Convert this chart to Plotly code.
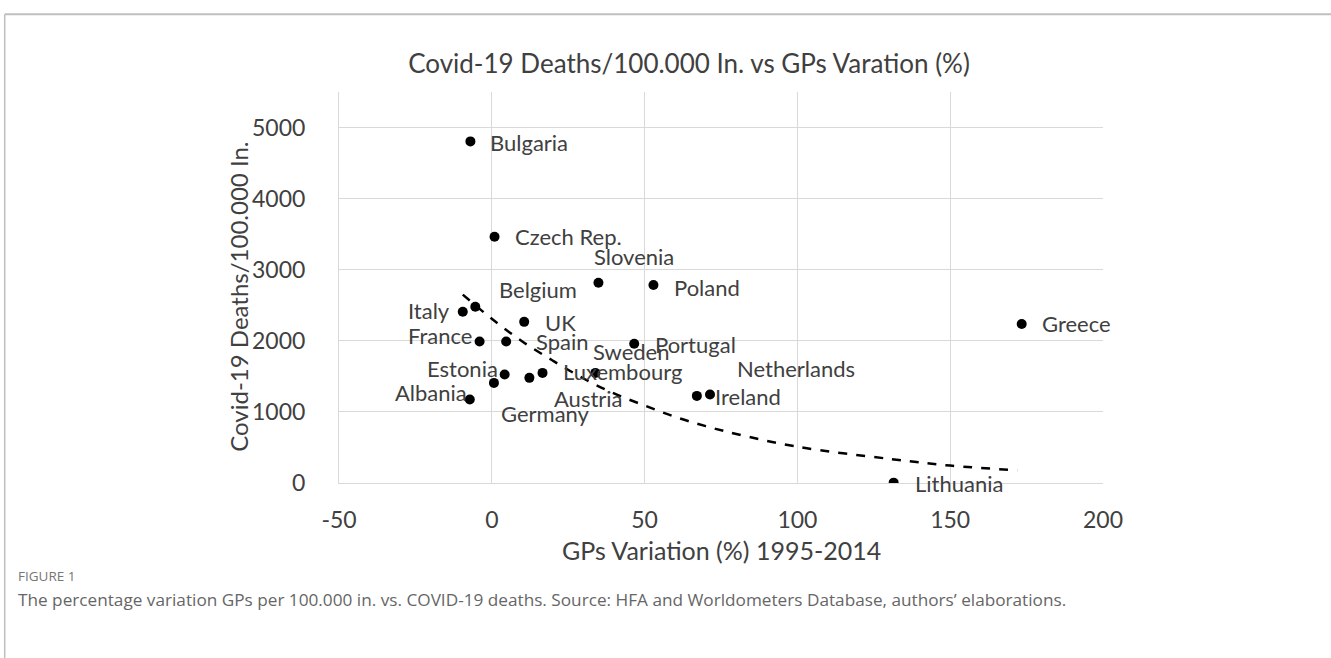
import plotly.graph_objects as go

# ---- data ----
countries = ["Bulgaria", "Czech Rep.", "Slovenia", "Poland", "Italy", "Belgium", "UK",
             "France", "Spain", "Portugal", "Estonia", "Germany", "Austria", "Luxembourg",
             "Sweden", "Albania", "Netherlands", "Ireland", "Greece", "Lithuania"]
gp_variation = [-7.0, 0.9, 34.9, 52.9, -9.5, -5.4, 10.6,
                -4.0, 4.7, 46.6, 4.2, 0.7, 12.3, 16.6,
                33.9, -7.2, 67.1, 71.4, 173.4, 131.5]
deaths = [4805, 3465, 2817, 2785, 2408, 2479, 2267,
          1991, 1991, 1958, 1526, 1408, 1479, 1549,
          1549, 1175, 1225, 1245, 2237, 5]

# trend line (dashed)
trend_x = [-9.5, 0, 10, 20, 30, 40, 50, 60, 70, 80, 100, 130, 150, 172]
trend_y = [2650, 2310, 1990, 1720, 1470, 1260, 1090, 930, 800, 690, 510, 340, 245, 178]

x_ticks = [-50, 0, 50, 100, 150, 200]
y_ticks = [0, 1000, 2000, 3000, 4000, 5000]

# ---- label placement (style): anchor, x shift px, y shift px (up positive) ----
label_pos = {
    "Bulgaria": ("left", 18, -1), "Czech Rep.": ("left", 18, 0),
    "Slovenia": ("left", -6, 26), "Poland": ("left", 19, -2),
    "Italy": ("right", -11, 1), "Belgium": ("left", 22, 17),
    "UK": ("left", 19, -1), "France": ("right", -6, 6),
    "Spain": ("left", 28, 0), "Portugal": ("left", 19, -1),
    "Estonia": ("right", -5, 6), "Germany": ("left", 5, -31),
    "Austria": ("left", 23, -21), "Luxembourg": ("left", 18, 1),
    "Sweden": ("left", -4, 21), "Albania": ("right", -1, 7),
    "Netherlands": ("left", 38, 27), "Ireland": ("left", 3, -2),
    "Greece": ("left", 18, 0), "Lithuania": ("left", 19, -1),
}

FONT = "Lato"
TXT = "#404040"
GRID = "#d9d9d9"

fig = go.Figure()
fig.add_trace(go.Scatter(x=trend_x, y=trend_y, mode="lines", line_shape="spline",
                         line=dict(color="black", width=2.5, dash="dash"),
                         hoverinfo="skip", showlegend=False))
fig.add_trace(go.Scatter(x=gp_variation, y=deaths, mode="markers",
                         marker=dict(color="black", size=10),
                         text=countries, showlegend=False))

annotations = []
for c, xv, yv in zip(countries, gp_variation, deaths):
    anc, dx, dy = label_pos[c]
    annotations.append(dict(x=xv, y=yv, xref="x", yref="y", text=c, showarrow=False,
                            xanchor=anc, yanchor="middle", xshift=dx, yshift=dy,
                            font=dict(family=FONT, size=22, color=TXT)))

# plot-area geometry in pixels (for paper conversions)
L, R, T, B = 338.5, 1103.0, 91.7, 483.0
W, H = R - L, B - T
def px(xp): return (xp - L) / W
def py(yp): return (B - yp) / H

annotations += [
    dict(text="Covid-19 Deaths/100.000 In.", xref="paper", yref="paper",
         x=px(238), y=py(297), textangle=-90, showarrow=False,
         xanchor="center", yanchor="middle", font=dict(family=FONT, size=24, color=TXT)),
    dict(text="GPs Variation (%) 1995-2014", xref="paper", yref="paper",
         x=px((L + R) / 2), y=py(550), showarrow=False,
         xanchor="center", yanchor="middle", font=dict(family=FONT, size=25, color=TXT)),
    dict(text="FIGURE 1", xref="paper", yref="paper", x=px(15), y=py(576),
         showarrow=False, xanchor="left", yanchor="middle",
         font=dict(family="Open Sans", size=13.5, color="#767676", weight=500)),
    dict(text="The percentage variation GPs per 100.000 in. vs. COVID-19 deaths. Source: HFA and Worldometers Database, authors\u2019 elaborations.",
         xref="paper", yref="paper", x=px(15), y=py(600),
         showarrow=False, xanchor="left", yanchor="middle",
         font=dict(family="Open Sans", size=17.2, color="#666666")),
]

shapes = [
    dict(type="line", xref="paper", yref="paper", x0=px(4), x1=px(1340), y0=py(14), y1=py(14),
         line=dict(color="#bfbfbf", width=2), layer="above"),
    dict(type="line", xref="paper", yref="paper", x0=px(4), x1=px(4), y0=py(14), y1=py(670),
         line=dict(color="#bfbfbf", width=1.5), layer="above"),
]

fig.update_layout(
    width=1331, height=658,
    margin=dict(l=L, r=1331 - R, t=T, b=658 - B, pad=0),
    paper_bgcolor="white", plot_bgcolor="white",
    title=dict(text="Covid-19 Deaths/100.000 In. vs GPs Varation (%)",
               xref="container", yref="container", x=689 / 1331, y=1 - 64 / 658,
               xanchor="center", yanchor="middle",
               font=dict(family=FONT, size=26, color=TXT)),
    xaxis=dict(range=[-50, 200], tickvals=x_ticks, ticktext=[str(v) for v in x_ticks],
               showgrid=True, gridcolor=GRID, gridwidth=1, zeroline=False,
               showline=True, linecolor=GRID, linewidth=1, ticks="",
               ticklabelstandoff=16,
               tickfont=dict(family=FONT, size=23, color=TXT)),
    yaxis=dict(range=[0, 5500], tickvals=y_ticks, ticktext=[str(v) for v in y_ticks],
               showgrid=True, gridcolor=GRID, gridwidth=1, zeroline=False,
               showline=True, linecolor=GRID, linewidth=1, ticks="",
               ticklabelstandoff=28,
               tickfont=dict(family=FONT, size=23, color=TXT)),
    annotations=annotations, shapes=shapes,
    font=dict(family=FONT, color=TXT),
)

fig.write_html("out.html", config={"displayModeBar": False},
               post_script="document.body.style.margin='0';document.body.style.overflow='hidden';")
